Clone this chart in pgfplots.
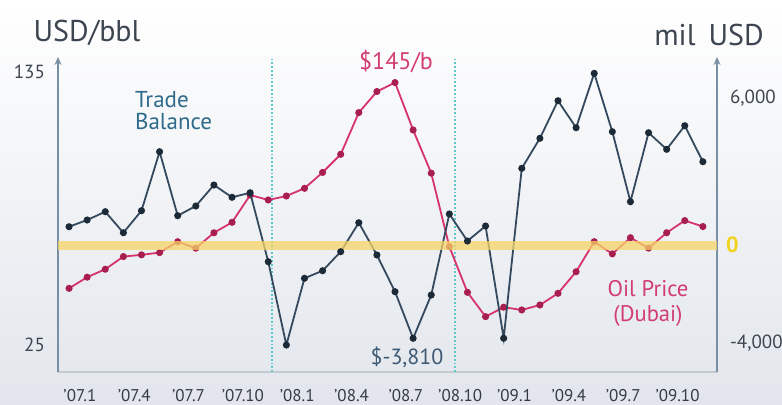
\documentclass[border=0pt]{standalone}
\usepackage{pgfplots}
\pgfplotsset{compat=1.18}
\usepackage{fontspec}
\setmainfont{PT Sans}
\usetikzlibrary{arrows.meta}
\definecolor{oilc}{HTML}{D6336C}
\definecolor{oilm}{HTML}{A81E4E}
\definecolor{tradec}{HTML}{34495E}
\definecolor{tradem}{HTML}{1C2A37}
\definecolor{bandc}{HTML}{F6D466}
\definecolor{cyanl}{HTML}{5CC8C8}
\definecolor{axisblue}{HTML}{7890A5}
\definecolor{axisgray}{HTML}{C4CAD0}
\definecolor{labelc}{HTML}{3D4650}
\definecolor{tbtext}{HTML}{2E6A8C}
\definecolor{mintext}{HTML}{3E5A75}
\definecolor{oiltext}{HTML}{D23D72}
\definecolor{bgbot}{HTML}{E2E6EC}
\definecolor{zeroc}{HTML}{F2D31C}
\begin{document}
\begin{tikzpicture}[x=1pt,y=1pt]
\shade[top color=white,bottom color=bgbot] (0,0) rectangle (391,202);
\path[use as bounding box] (0,0) rectangle (391,202);
% left axis: oil price
\begin{axis}[
  at={(29pt,16pt)}, anchor=south west, scale only axis,
  width=329.5pt, height=157.5pt,
  xmin=-0.61, xmax=35.78, ymin=14.1, ymax=141.0,
  axis x line=bottom, axis y line=left,
  x axis line style={draw=axisgray, line width=0.6pt, -},
  y axis line style={draw=axisblue, line width=1.3pt, -{Stealth[length=4pt,width=3.5pt]}},
  major tick length=0pt,
  xtick={0.6,3.6,6.6,9.6,12.6,15.6,18.6,21.6,24.6,27.6,30.6,33.6},
  xticklabels={'07.1,'07.4,'07.7,'07.10,'08.1,'08.4,'08.7,'08.10,'09.1,'09.4,'09.7,'09.10},
  xticklabel style={font=\fontsize{8.5}{10}\selectfont, text=labelc!85!black, yshift=-5pt},
  ytick={25,135}, yticklabels={25,135},
  yticklabel style={font=\fontsize{9.5}{11}\selectfont, text=labelc, xshift=-3pt},
  clip=false,
]
\addplot[cyanl, line width=0.9pt, densely dotted] coordinates {(11.2,14.1) (11.2,141.0)};
\addplot[cyanl, line width=0.9pt, densely dotted] coordinates {(21.3,14.1) (21.3,141.0)};
\addplot[oilc, line width=0.9pt, mark=*, mark size=1.3pt, mark options={fill=oilm, draw=oilm}] coordinates {
(0,47.8) (1,52.3) (2,55.5) (3,60.6) (4,61.3) (5,62.2) (6,66.6) (7,64.0) (8,70.2) (9,74.4)
(10,85.4) (11,83.4) (12,85.0) (13,88.1) (14,94.5) (15,101.8) (16,118.6) (17,127.1) (18,130.7) (19,111.6)
(20,94.2) (21,64.6) (22,46.2) (23,36.4) (24,40.2) (25,39.1) (26,41.1) (27,45.8) (28,54.5) (29,66.6)
(30,61.7) (31,68.2) (32,64.0) (33,70.2) (34,75.1) (35,72.7)};
\end{axis}
% right axis: trade balance
\begin{axis}[
  at={(29pt,16pt)}, anchor=south west, scale only axis,
  width=329.5pt, height=157.5pt,
  xmin=-0.61, xmax=35.78, ymin=-5187, ymax=7678,
  axis x line=none, axis y line=right,
  y axis line style={draw=axisblue, line width=1.3pt, -{Stealth[length=4pt,width=3.5pt]}},
  major tick length=0pt,
  ytick={-4000,6000}, yticklabels={{-4,000},{6,000}},
  yticklabel style={font=\fontsize{9.5}{11}\selectfont, text=labelc, xshift=3pt},
  extra y ticks={0}, extra y tick labels={0},
  extra y tick style={yticklabel style={font=\fontsize{11}{12}\bfseries, text=zeroc, xshift=-2pt}},
  clip=false,
]
\addplot[tradec, line width=0.9pt, mark=*, mark size=1.3pt, mark options={fill=tradem, draw=tradem}] coordinates {
(0,747) (1,1021) (2,1360) (3,502) (4,1401) (5,3810) (6,1197) (7,1593) (8,2450) (9,1948)
(10,2136) (11,-682) (12,-4084) (13,-1360) (14,-1050) (15,-274) (16,911) (17,-408) (18,-1907) (19,-3810)
(20,-2042) (21,1266) (22,163) (23,776) (24,-3810) (25,3132) (26,4358) (27,5893) (28,4790) (29,7012)
(30,4627) (31,1768) (32,4586) (33,3908) (34,4872) (35,3402)};
\addplot[bandc, line width=4.5pt, opacity=0.75] coordinates {(-0.61,0) (35.78,0)};
\end{axis}
\node[text=labelc, font=\fontsize{15}{18}\selectfont] at (43.5,185.5) {USD/bbl};
\node[text=labelc, font=\fontsize{15}{18}\selectfont] at (354.5,184.5) {mil\, USD};
\node[text=tbtext, font=\fontsize{11.5}{11}\selectfont, align=left, anchor=west] at (64,146.5) {Trade\\Balance};
\node[text=oiltext, font=\fontsize{12}{14}\selectfont] at (198,171) {\$145/b};
\node[text=mintext, font=\fontsize{11}{13}\selectfont] at (203.5,23.5) {\$-3,810};
\node[text=oiltext, font=\fontsize{11.3}{12.5}\selectfont, align=center] at (324,50.5) {Oil Price\\(Dubai)};
\end{tikzpicture}
\end{document}
